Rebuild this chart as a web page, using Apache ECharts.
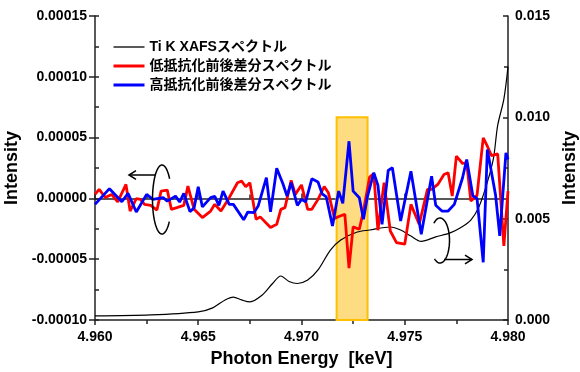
<!DOCTYPE html>
<html>
<head>
<meta charset="utf-8">
<script src="https://cdn.jsdelivr.net/npm/echarts@6/dist/echarts.min.js"></script>
<style>
  html, body { margin: 0; padding: 0; background: #fff; }
  #chart { width: 580px; height: 372px; }
</style>
</head>
<body>
<div id="chart"></div>
<script>
/* -------------------------------------------------------------------------- */
/* Data                                                    */
var seriesNames = ['Ti K XAFSスペクトル', '低抵抗化前後差分スペクトル', '高抵抗化前後差分スペクトル'];

// Ti K XAFS spectrum (right axis)
var xafsEnergy = [4.9600, 4.9627, 4.9650, 4.9657, 4.9663, 4.9667, 4.9671, 4.9675, 4.9681, 4.9686,
  4.9690, 4.9694, 4.9698, 4.9703, 4.9708, 4.9714, 4.9719, 4.9727, 4.9733, 4.9743,
  4.9748, 4.9753, 4.9758, 4.9765, 4.9772, 4.9777, 4.9782, 4.9786, 4.9790, 4.9793,
  4.9795, 4.9798, 4.9800];
var xafsValue = [0.00020, 0.00025, 0.00040, 0.00060, 0.00099, 0.00113, 0.00099, 0.00089, 0.00123, 0.00180,
  0.00217, 0.00190, 0.00180, 0.00197, 0.00247, 0.00345, 0.00395, 0.00434, 0.00444, 0.00459,
  0.00444, 0.00414, 0.00388, 0.00410, 0.00430, 0.00455, 0.00493, 0.00560, 0.00680, 0.00800,
  0.00960, 0.01090, 0.01250];

// low resistance difference spectrum (left axis, x1e-5)
var lowEnergy = [4.9600, 4.9602, 4.9605, 4.9608, 4.9611, 4.9615, 4.9617, 4.9620, 4.9622, 4.9624,
  4.9627, 4.9630, 4.9632, 4.9635, 4.9637, 4.9640, 4.9643, 4.9645, 4.9648, 4.9652,
  4.9656, 4.9658, 4.9661, 4.9665, 4.9669, 4.9671, 4.9673, 4.9675, 4.9678, 4.9680,
  4.9685, 4.9688, 4.9690, 4.9692, 4.9695, 4.9697, 4.9700, 4.9703, 4.9705, 4.9708,
  4.9711, 4.9713, 4.9716, 4.9719, 4.9721, 4.9723, 4.9725, 4.9728, 4.9730, 4.9733,
  4.9735, 4.9737, 4.9740, 4.9743, 4.9746, 4.9750, 4.9753, 4.9757, 4.9761, 4.9763,
  4.9766, 4.9769, 4.9771, 4.9773, 4.9775, 4.9778, 4.9780, 4.9782, 4.9785, 4.9788,
  4.9790, 4.9792, 4.9795, 4.9798, 4.9800];
var lowValueE5 = [0.33, 0.74, 0.08, 0.33, -0.29, 1.15, -1.04, -0.02, -0.08, -0.49,
  -0.57, -0.96, 0.60, 0.68, -0.90, -0.74, -0.57, 1.01, -0.90, -1.58,
  -1.04, -0.49, -1.04, 0.06, 1.29, 1.42, 0.96, 1.29, -1.72, -1.52,
  -2.40, -2.13, -0.90, -0.76, 1.48, 0.33, 1.11, -0.90, -0.90, -0.08,
  0.98, 0.47, -1.64, -1.43, -1.31, -5.74, -2.34, -2.54, -1.04, 1.76,
  2.05, -2.62, 1.29, -2.68, -3.63, -3.77, -0.49, -2.13, 0.74, 0.74,
  1.15, 1.97, 2.11, 0.19, 3.47, 2.87, 2.95, -0.22, 0.25, 4.98,
  4.29, 3.52, 3.66, -3.91, 0.60];

// high resistance difference spectrum (left axis, x1e-5)
var highEnergy = [4.9600, 4.9607, 4.9613, 4.9616, 4.9620, 4.9625, 4.9628, 4.9633, 4.9635, 4.9639,
  4.9641, 4.9643, 4.9646, 4.9648, 4.9650, 4.9652, 4.9656, 4.9658, 4.9660, 4.9662,
  4.9665, 4.9667, 4.9672, 4.9674, 4.9677, 4.9679, 4.9683, 4.9685, 4.9688, 4.9691,
  4.9693, 4.9695, 4.9698, 4.9700, 4.9702, 4.9705, 4.9708, 4.9710, 4.9712, 4.9715,
  4.9718, 4.9720, 4.9723, 4.9725, 4.9728, 4.9730, 4.9732, 4.9735, 4.9737, 4.9739,
  4.9742, 4.9744, 4.9748, 4.9753, 4.9758, 4.9763, 4.9765, 4.9768, 4.9771, 4.9774,
  4.9778, 4.9780, 4.9783, 4.9785, 4.9788, 4.9790, 4.9794, 4.9796, 4.9799, 4.9800];
var highValueE5 = [-0.49, 0.80, -0.27, 0.41, -1.12, 0.33, -0.08, 0.06, -0.22, 0.19,
  -0.30, 0.41, -1.09, -0.76, 0.96, -0.70, 0.06, 0.16, -0.57, 0.60,
  -0.49, -0.49, -1.76, -1.12, -1.17, -0.63, 1.70, -1.11, 2.48, 1.21,
  0.19, 1.29, -0.57, -0.08, -0.29, 1.61, 1.35, 0.37, 0.12, -2.27,
  0.60, -0.41, 4.70, 0.60, 0.06, -1.72, 0.19, 2.11, 1.08, -2.13,
  2.30, 2.52, -1.86, 2.24, -2.95, 1.83, -0.57, -1.04, -1.04, -0.49,
  1.70, 3.20, 0.19, 0.00, -5.27, 4.02, 0.25, -3.09, 3.75, 3.20];

// highlighted energy window (right axis units)
var highlightRange = [4.9717, 4.9732];
var highlightTop = 0.0100;
/* -------------------------------------------------------------------------- */

var FONT = '"Liberation Sans", Arial, "Noto Sans CJK JP", sans-serif';
var AXIS_COLOR = '#222';

var zip = function (xs, ys, scale) {
  return xs.map(function (x, i) { return [x, ys[i] * (scale || 1)]; });
};

var ellipseArc = function (cx, cy, rx, ry, t0, t1, n) {
  var pts = [];
  for (var i = 0; i <= n; i++) {
    var t = (t0 + (t1 - t0) * i / n) * Math.PI / 180;
    pts.push([cx + rx * Math.cos(t), cy + ry * Math.sin(t)]);
  }
  return pts;
};

var annoLine = { stroke: '#000', lineWidth: 1.5, fill: null };

var tickStyle = { color: AXIS_COLOR, width: 1.5 };
var labelStyle = { color: '#000', fontWeight: 'bold', fontSize: 14, fontFamily: FONT };
var nameStyle = { color: '#000', fontWeight: 'bold', fontSize: 18, fontFamily: FONT };

var chart = echarts.init(document.getElementById('chart'), null, { renderer: 'canvas' });

chart.setOption({
  animation: false,
  backgroundColor: '#fff',
  grid: { left: 95, right: 72, top: 16, bottom: 52, containLabel: false, outerBoundsMode: 'none' },
  legend: {
    data: [
      { name: seriesNames[0], lineStyle: { width: 1.3 } },
      { name: seriesNames[1], lineStyle: { width: 3 } },
      { name: seriesNames[2], lineStyle: { width: 3 } }
    ],
    orient: 'vertical',
    left: 107,
    top: 35,
    itemWidth: 31,
    itemHeight: 14,
    itemGap: 5,
    itemStyle: { opacity: 0 },
    textStyle: { color: '#000', fontWeight: 'bold', fontSize: 14, fontFamily: FONT }
  },
  xAxis: [{
    type: 'value',
    position: 'bottom',
    min: 4.96,
    max: 4.98,
    interval: 0.005,
    axisLine: { lineStyle: tickStyle },
    axisTick: { inside: true, length: 5, lineStyle: tickStyle },
    minorTick: { show: true, splitNumber: 2, length: 4, lineStyle: tickStyle },
    splitLine: { show: false },
    axisLabel: Object.assign({ margin: 10, formatter: function (v) { return v.toFixed(3); } }, labelStyle),
    name: 'Photon Energy  [keV]',
    nameLocation: 'middle',
    nameGap: 30,
    nameTextStyle: nameStyle
  }, {
    type: 'value',
    position: 'top',
    min: 4.96,
    max: 4.98,
    interval: 0.005,
    axisLine: { lineStyle: tickStyle },
    axisTick: { inside: true, length: 5, lineStyle: tickStyle },
    minorTick: { show: true, splitNumber: 2, length: 4, lineStyle: tickStyle },
    splitLine: { show: false },
    axisLabel: { show: false }
  }],
  yAxis: [{
    type: 'value',
    position: 'left',
    min: -0.0001,
    max: 0.00015,
    interval: 0.00005,
    axisLine: { show: true, lineStyle: tickStyle },
    axisTick: { show: true, inside: false, length: 6, lineStyle: tickStyle },
    splitLine: { show: false },
    axisLabel: Object.assign({
      margin: 8,
      formatter: function (v) { return Math.abs(v) < 1e-12 ? '0.00000' : v.toFixed(5); }
    }, labelStyle),
    name: 'Intensity',
    nameLocation: 'middle',
    nameRotate: 90,
    nameGap: 66,
    nameTextStyle: nameStyle
  }, {
    type: 'value',
    position: 'right',
    min: 0,
    max: 0.015,
    interval: 0.005,
    axisLine: { show: true, lineStyle: tickStyle },
    axisTick: { show: true, inside: true, length: 5, lineStyle: tickStyle },
    minorTick: { show: true, splitNumber: 2, length: 4, lineStyle: tickStyle },
    splitLine: { show: false },
    axisLabel: Object.assign({ margin: 7, formatter: function (v) { return v.toFixed(3); } }, labelStyle),
    name: 'Intensity',
    nameLocation: 'middle',
    nameRotate: 90,
    nameGap: 49,
    nameTextStyle: nameStyle
  }, {
    // inner minor ticks of the left axis
    type: 'value',
    position: 'left',
    min: -0.0001,
    max: 0.00015,
    interval: 0.000025,
    axisLine: { show: false },
    axisTick: { show: true, inside: true, length: 4, lineStyle: tickStyle },
    splitLine: { show: false },
    axisLabel: { show: false }
  }],
  series: [{
    type: 'line',
    yAxisIndex: 1,
    data: [],
    z: 1,
    markArea: {
      silent: true,
      itemStyle: { color: '#FFDB82', borderColor: '#FFC000', borderWidth: 2 },
      data: [[{ coord: [highlightRange[0], 0] }, { coord: [highlightRange[1], highlightTop] }]]
    }
  }, {
    name: seriesNames[0],
    type: 'line',
    yAxisIndex: 1,
    data: zip(xafsEnergy, xafsValue),
    symbol: 'none',
    smooth: 0.3,
    lineStyle: { color: '#000', width: 1.2 },
    itemStyle: { color: '#000' },
    z: 3
  }, {
    name: seriesNames[1],
    type: 'line',
    yAxisIndex: 0,
    data: zip(lowEnergy, lowValueE5, 1e-5),
    symbol: 'none',
    lineStyle: { color: '#ff0000', width: 2.8 },
    itemStyle: { color: '#ff0000' },
    z: 4
  }, {
    name: seriesNames[2],
    type: 'line',
    yAxisIndex: 0,
    data: zip(highEnergy, highValueE5, 1e-5),
    symbol: 'none',
    lineStyle: { color: '#0000ff', width: 2.8 },
    itemStyle: { color: '#0000ff' },
    z: 5
  }],
  graphic: [
    // left-axis marker: loop with arrow pointing left
    { type: 'polyline', z: 10, shape: { points: ellipseArc(162, 199.5, 9.5, 34.5, -37, -320, 60) }, style: annoLine },
    { type: 'polyline', z: 10, shape: { points: [[155, 175], [129, 175]] }, style: annoLine },
    { type: 'polyline', z: 10, shape: { points: [[136, 170.7], [129, 175], [136, 179.3]] }, style: annoLine },
    // right-axis marker: loop with arrow pointing right
    { type: 'polyline', z: 10, shape: { points: ellipseArc(440, 240.5, 9.5, 22.5, -130, 125, 60) }, style: annoLine },
    { type: 'polyline', z: 10, shape: { points: [[444, 259.5], [472, 259.5]] }, style: annoLine },
    { type: 'polyline', z: 10, shape: { points: [[465, 255.2], [472, 259.5], [465, 263.8]] }, style: annoLine }
  ]
});
</script>
</body>
</html>
